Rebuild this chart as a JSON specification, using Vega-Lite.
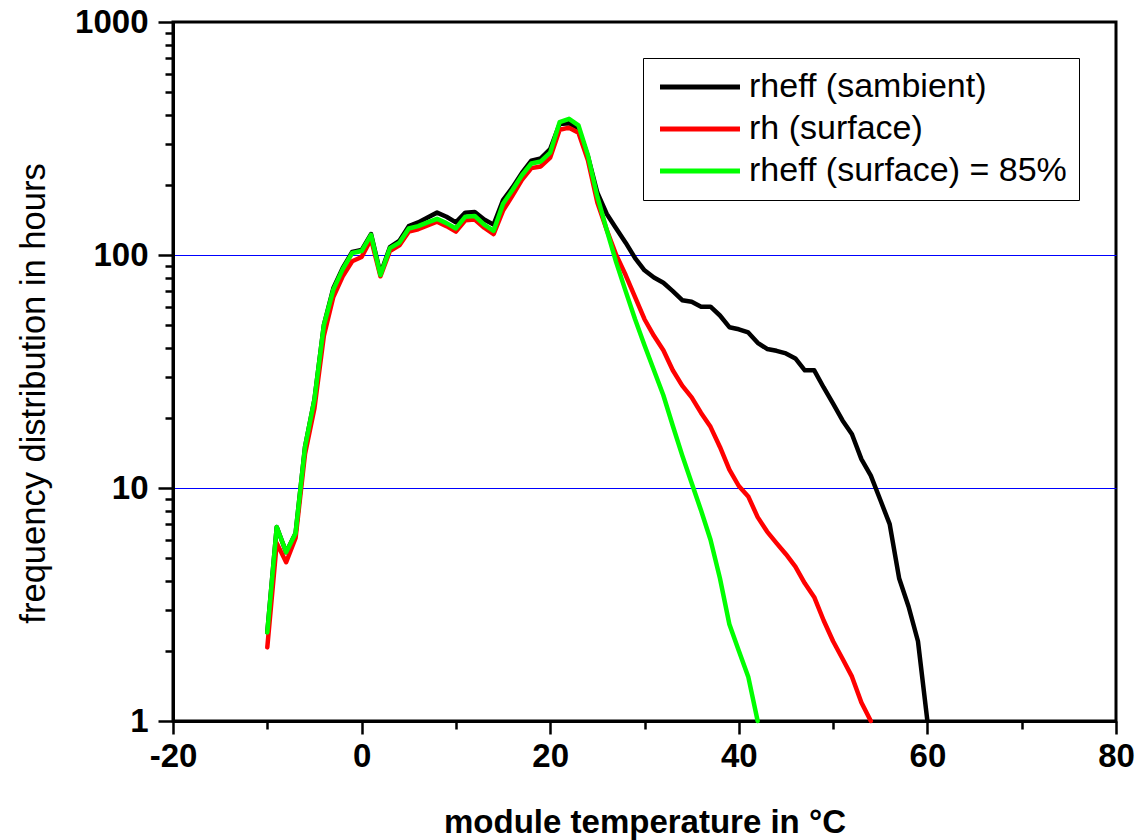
{
  "$schema": "https://vega.github.io/schema/vega-lite/v6.json",
  "width": 943,
  "height": 699,
  "autosize": "none",
  "padding": {"left": 173, "top": 22, "right": 22, "bottom": 119},
  "background": "white",
  "config": {"view": {"stroke": "#000", "strokeWidth": 3}, "font": "Liberation Sans"},
  "datasets": {
    "rows": [
      {"T":-10,"hours":2.4,"series":"rheff (sambient)"},{"T":-9,"hours":6.8,"series":"rheff (sambient)"},{"T":-8,"hours":5.3,"series":"rheff (sambient)"},{"T":-7,"hours":6.4,"series":"rheff (sambient)"},{"T":-6,"hours":15,"series":"rheff (sambient)"},{"T":-5,"hours":24,"series":"rheff (sambient)"},{"T":-4,"hours":50,"series":"rheff (sambient)"},{"T":-3,"hours":72,"series":"rheff (sambient)"},{"T":-2,"hours":88,"series":"rheff (sambient)"},{"T":-1,"hours":103,"series":"rheff (sambient)"},{"T":0,"hours":105,"series":"rheff (sambient)"},{"T":1,"hours":123,"series":"rheff (sambient)"},{"T":2,"hours":83,"series":"rheff (sambient)"},{"T":3,"hours":108,"series":"rheff (sambient)"},{"T":4,"hours":115,"series":"rheff (sambient)"},{"T":5,"hours":133,"series":"rheff (sambient)"},{"T":6,"hours":138,"series":"rheff (sambient)"},{"T":7,"hours":145,"series":"rheff (sambient)"},{"T":8,"hours":152,"series":"rheff (sambient)"},{"T":9,"hours":146,"series":"rheff (sambient)"},{"T":10,"hours":138,"series":"rheff (sambient)"},{"T":11,"hours":152,"series":"rheff (sambient)"},{"T":12,"hours":153,"series":"rheff (sambient)"},{"T":13,"hours":142,"series":"rheff (sambient)"},{"T":14,"hours":135,"series":"rheff (sambient)"},{"T":15,"hours":172,"series":"rheff (sambient)"},{"T":16,"hours":195,"series":"rheff (sambient)"},{"T":17,"hours":225,"series":"rheff (sambient)"},{"T":18,"hours":254,"series":"rheff (sambient)"},{"T":19,"hours":260,"series":"rheff (sambient)"},{"T":20,"hours":285,"series":"rheff (sambient)"},{"T":21,"hours":365,"series":"rheff (sambient)"},{"T":22,"hours":368,"series":"rheff (sambient)"},{"T":23,"hours":350,"series":"rheff (sambient)"},{"T":24,"hours":265,"series":"rheff (sambient)"},{"T":25,"hours":185,"series":"rheff (sambient)"},{"T":26,"hours":150,"series":"rheff (sambient)"},{"T":27,"hours":130,"series":"rheff (sambient)"},{"T":28,"hours":113,"series":"rheff (sambient)"},{"T":29,"hours":97,"series":"rheff (sambient)"},{"T":30,"hours":86,"series":"rheff (sambient)"},{"T":31,"hours":80,"series":"rheff (sambient)"},{"T":32,"hours":76,"series":"rheff (sambient)"},{"T":33,"hours":70,"series":"rheff (sambient)"},{"T":34,"hours":64,"series":"rheff (sambient)"},{"T":35,"hours":63,"series":"rheff (sambient)"},{"T":36,"hours":60,"series":"rheff (sambient)"},{"T":37,"hours":60,"series":"rheff (sambient)"},{"T":38,"hours":55,"series":"rheff (sambient)"},{"T":39,"hours":49,"series":"rheff (sambient)"},{"T":40,"hours":48,"series":"rheff (sambient)"},{"T":41,"hours":46.5,"series":"rheff (sambient)"},{"T":42,"hours":42,"series":"rheff (sambient)"},{"T":43,"hours":39.5,"series":"rheff (sambient)"},{"T":44,"hours":38.8,"series":"rheff (sambient)"},{"T":45,"hours":37.8,"series":"rheff (sambient)"},{"T":46,"hours":36,"series":"rheff (sambient)"},{"T":47,"hours":32,"series":"rheff (sambient)"},{"T":48,"hours":32,"series":"rheff (sambient)"},{"T":49,"hours":27,"series":"rheff (sambient)"},{"T":50,"hours":23,"series":"rheff (sambient)"},{"T":51,"hours":19.5,"series":"rheff (sambient)"},{"T":52,"hours":17,"series":"rheff (sambient)"},{"T":53,"hours":13.3,"series":"rheff (sambient)"},{"T":54,"hours":11.3,"series":"rheff (sambient)"},{"T":55,"hours":8.9,"series":"rheff (sambient)"},{"T":56,"hours":7.0,"series":"rheff (sambient)"},{"T":57,"hours":4.1,"series":"rheff (sambient)"},{"T":58,"hours":3.1,"series":"rheff (sambient)"},{"T":59,"hours":2.2,"series":"rheff (sambient)"},{"T":60,"hours":1.0,"series":"rheff (sambient)"},
      {"T":-10,"hours":2.07,"series":"rh (surface)"},{"T":-9,"hours":5.8,"series":"rh (surface)"},{"T":-8,"hours":4.8,"series":"rh (surface)"},{"T":-7,"hours":6.1,"series":"rh (surface)"},{"T":-6,"hours":14,"series":"rh (surface)"},{"T":-5,"hours":22,"series":"rh (surface)"},{"T":-4,"hours":45,"series":"rh (surface)"},{"T":-3,"hours":66,"series":"rh (surface)"},{"T":-2,"hours":81,"series":"rh (surface)"},{"T":-1,"hours":94,"series":"rh (surface)"},{"T":0,"hours":98,"series":"rh (surface)"},{"T":1,"hours":117,"series":"rh (surface)"},{"T":2,"hours":81,"series":"rh (surface)"},{"T":3,"hours":104,"series":"rh (surface)"},{"T":4,"hours":110,"series":"rh (surface)"},{"T":5,"hours":126,"series":"rh (surface)"},{"T":6,"hours":129,"series":"rh (surface)"},{"T":7,"hours":134,"series":"rh (surface)"},{"T":8,"hours":139,"series":"rh (surface)"},{"T":9,"hours":133,"series":"rh (surface)"},{"T":10,"hours":126,"series":"rh (surface)"},{"T":11,"hours":141,"series":"rh (surface)"},{"T":12,"hours":142,"series":"rh (surface)"},{"T":13,"hours":131,"series":"rh (surface)"},{"T":14,"hours":123,"series":"rh (surface)"},{"T":15,"hours":155,"series":"rh (surface)"},{"T":16,"hours":180,"series":"rh (surface)"},{"T":17,"hours":210,"series":"rh (surface)"},{"T":18,"hours":236,"series":"rh (surface)"},{"T":19,"hours":240,"series":"rh (surface)"},{"T":20,"hours":262,"series":"rh (surface)"},{"T":21,"hours":345,"series":"rh (surface)"},{"T":22,"hours":352,"series":"rh (surface)"},{"T":23,"hours":335,"series":"rh (surface)"},{"T":24,"hours":255,"series":"rh (surface)"},{"T":25,"hours":168,"series":"rh (surface)"},{"T":26,"hours":128,"series":"rh (surface)"},{"T":27,"hours":100,"series":"rh (surface)"},{"T":28,"hours":82,"series":"rh (surface)"},{"T":29,"hours":66,"series":"rh (surface)"},{"T":30,"hours":53,"series":"rh (surface)"},{"T":31,"hours":45,"series":"rh (surface)"},{"T":32,"hours":39,"series":"rh (surface)"},{"T":33,"hours":32,"series":"rh (surface)"},{"T":34,"hours":27.5,"series":"rh (surface)"},{"T":35,"hours":24.5,"series":"rh (surface)"},{"T":36,"hours":21,"series":"rh (surface)"},{"T":37,"hours":18.3,"series":"rh (surface)"},{"T":38,"hours":15,"series":"rh (surface)"},{"T":39,"hours":12,"series":"rh (surface)"},{"T":40,"hours":10.2,"series":"rh (surface)"},{"T":41,"hours":9.2,"series":"rh (surface)"},{"T":42,"hours":7.5,"series":"rh (surface)"},{"T":43,"hours":6.5,"series":"rh (surface)"},{"T":44,"hours":5.8,"series":"rh (surface)"},{"T":45,"hours":5.2,"series":"rh (surface)"},{"T":46,"hours":4.6,"series":"rh (surface)"},{"T":47,"hours":3.9,"series":"rh (surface)"},{"T":48,"hours":3.4,"series":"rh (surface)"},{"T":49,"hours":2.7,"series":"rh (surface)"},{"T":50,"hours":2.2,"series":"rh (surface)"},{"T":51,"hours":1.85,"series":"rh (surface)"},{"T":52,"hours":1.55,"series":"rh (surface)"},{"T":53,"hours":1.2,"series":"rh (surface)"},{"T":54,"hours":1.0,"series":"rh (surface)"},
      {"T":-10,"hours":2.4,"series":"rheff (surface) = 85%"},{"T":-9,"hours":6.8,"series":"rheff (surface) = 85%"},{"T":-8,"hours":5.3,"series":"rheff (surface) = 85%"},{"T":-7,"hours":6.4,"series":"rheff (surface) = 85%"},{"T":-6,"hours":15,"series":"rheff (surface) = 85%"},{"T":-5,"hours":24,"series":"rheff (surface) = 85%"},{"T":-4,"hours":50,"series":"rheff (surface) = 85%"},{"T":-3,"hours":71,"series":"rheff (surface) = 85%"},{"T":-2,"hours":87,"series":"rheff (surface) = 85%"},{"T":-1,"hours":102,"series":"rheff (surface) = 85%"},{"T":0,"hours":104,"series":"rheff (surface) = 85%"},{"T":1,"hours":122,"series":"rheff (surface) = 85%"},{"T":2,"hours":82,"series":"rheff (surface) = 85%"},{"T":3,"hours":107,"series":"rheff (surface) = 85%"},{"T":4,"hours":113,"series":"rheff (surface) = 85%"},{"T":5,"hours":130,"series":"rheff (surface) = 85%"},{"T":6,"hours":133,"series":"rheff (surface) = 85%"},{"T":7,"hours":138,"series":"rheff (surface) = 85%"},{"T":8,"hours":143,"series":"rheff (surface) = 85%"},{"T":9,"hours":137,"series":"rheff (surface) = 85%"},{"T":10,"hours":130,"series":"rheff (surface) = 85%"},{"T":11,"hours":146,"series":"rheff (surface) = 85%"},{"T":12,"hours":147,"series":"rheff (surface) = 85%"},{"T":13,"hours":135,"series":"rheff (surface) = 85%"},{"T":14,"hours":127,"series":"rheff (surface) = 85%"},{"T":15,"hours":166,"series":"rheff (surface) = 85%"},{"T":16,"hours":190,"series":"rheff (surface) = 85%"},{"T":17,"hours":220,"series":"rheff (surface) = 85%"},{"T":18,"hours":247,"series":"rheff (surface) = 85%"},{"T":19,"hours":252,"series":"rheff (surface) = 85%"},{"T":20,"hours":275,"series":"rheff (surface) = 85%"},{"T":21,"hours":372,"series":"rheff (surface) = 85%"},{"T":22,"hours":384,"series":"rheff (surface) = 85%"},{"T":23,"hours":360,"series":"rheff (surface) = 85%"},{"T":24,"hours":268,"series":"rheff (surface) = 85%"},{"T":25,"hours":178,"series":"rheff (surface) = 85%"},{"T":26,"hours":128,"series":"rheff (surface) = 85%"},{"T":27,"hours":93,"series":"rheff (surface) = 85%"},{"T":28,"hours":70,"series":"rheff (surface) = 85%"},{"T":29,"hours":53,"series":"rheff (surface) = 85%"},{"T":30,"hours":41,"series":"rheff (surface) = 85%"},{"T":31,"hours":32,"series":"rheff (surface) = 85%"},{"T":32,"hours":25,"series":"rheff (surface) = 85%"},{"T":33,"hours":18.5,"series":"rheff (surface) = 85%"},{"T":34,"hours":13.8,"series":"rheff (surface) = 85%"},{"T":35,"hours":10.5,"series":"rheff (surface) = 85%"},{"T":36,"hours":8.0,"series":"rheff (surface) = 85%"},{"T":37,"hours":6.0,"series":"rheff (surface) = 85%"},{"T":38,"hours":4.1,"series":"rheff (surface) = 85%"},{"T":39,"hours":2.6,"series":"rheff (surface) = 85%"},{"T":40,"hours":2.0,"series":"rheff (surface) = 85%"},{"T":41,"hours":1.55,"series":"rheff (surface) = 85%"},{"T":42,"hours":1.0,"series":"rheff (surface) = 85%"}
    ]
  },
  "data": {"name": "rows"},
  "encoding": {
    "x": {
      "field": "T", "type": "quantitative",
      "scale": {"domain": [-20, 80], "nice": false, "zero": false},
      "axis": {
        "values": [-20, -10, 0, 10, 20, 30, 40, 50, 60, 70, 80],
        "labelExpr": "datum.value % 20 === 0 ? '' + datum.value : ''",
        "title": "module temperature in °C",
        "labelFont": "Liberation Sans", "labelFontSize": 33, "labelFontWeight": "bold", "labelColor": "#000",
        "labelPadding": 6, "labelFlush": false, "labelOverlap": false,
        "tickColor": "#000", "tickWidth": 2.5,
        "tickSize": {"condition": {"test": "datum.value % 20 === 0", "value": 13}, "value": 8},
        "domainColor": "#000", "domainWidth": 3, "grid": false,
        "titleFont": "Liberation Sans", "titleFontSize": 33, "titleFontWeight": "bold", "titleColor": "#000",
        "titleX": 471.5, "titleY": 111, "titleBaseline": "alphabetic", "titleAlign": "center"
      }
    },
    "y": {
      "field": "hours", "type": "quantitative",
      "scale": {"type": "log", "domain": [1, 1000], "nice": false},
      "axis": {
        "values": [1,2,3,4,5,6,7,8,9,10,20,30,40,50,60,70,80,90,100,200,300,400,500,600,700,800,900,1000],
        "labelExpr": "(datum.value == 1 || datum.value == 10 || datum.value == 100 || datum.value == 1000) ? '' + datum.value : ''",
        "title": "frequency distribution in hours",
        "labelFont": "Liberation Sans", "labelFontSize": 33, "labelFontWeight": "bold", "labelColor": "#000",
        "labelPadding": 10, "labelFlush": false, "labelOverlap": false,
        "tickColor": "#000", "tickWidth": 2.5,
        "tickSize": {"condition": {"test": "datum.value == 1 || datum.value == 10 || datum.value == 100 || datum.value == 1000", "value": 15}, "value": 8},
        "domainColor": "#000", "domainWidth": 3,
        "grid": true, "gridColor": "#0000ff", "gridWidth": 1,
        "gridOpacity": {"condition": {"test": "datum.value == 10 || datum.value == 100", "value": 1}, "value": 0},
        "titleFont": "Liberation Sans", "titleFontSize": 34.5, "titleFontWeight": "normal", "titleColor": "#000",
        "titleAngle": -90, "titleX": -129, "titleY": 371, "titleBaseline": "alphabetic", "titleAlign": "center"
      }
    },
    "color": {
      "field": "series", "type": "nominal",
      "scale": {"domain": ["rheff (sambient)", "rh (surface)", "rheff (surface) = 85%"], "range": ["#000000", "#ff0000", "#00ff00"]},
      "legend": {
        "title": null, "orient": "none", "legendX": 470, "legendY": 36, "direction": "vertical",
        "symbolType": "M-0.9,0H5.1", "symbolSize": 711, "symbolStrokeWidth": 5,
        "labelFont": "Liberation Sans", "labelFontSize": 34, "labelColor": "#000", "labelOffset": 60, "labelLimit": 600,
        "rowPadding": 8, "padding": 12, "strokeColor": "#000", "fillColor": "#fff"
      }
    }
  },
  "layer": [
    {"transform": [{"filter": "datum.series === 'rheff (sambient)'"}], "mark": {"type": "line", "strokeWidth": 4.5, "strokeJoin": "round", "strokeCap": "round"}},
    {"transform": [{"filter": "datum.series === 'rh (surface)'"}], "mark": {"type": "line", "strokeWidth": 4.5, "strokeJoin": "round", "strokeCap": "round"}},
    {"transform": [{"filter": "datum.series === 'rheff (surface) = 85%'"}], "mark": {"type": "line", "strokeWidth": 4.5, "strokeJoin": "round", "strokeCap": "round"}}
  ]
}
